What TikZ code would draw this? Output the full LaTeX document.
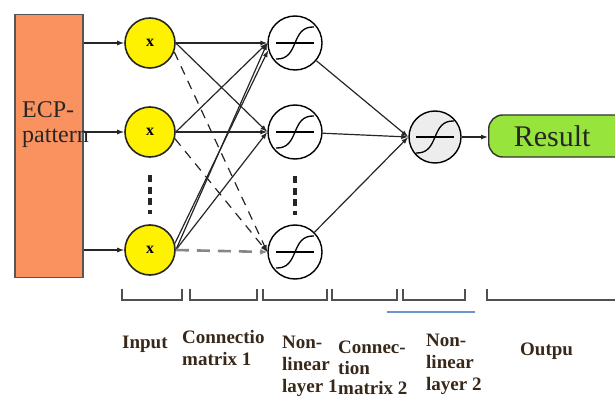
\documentclass[tikz,border=0pt]{standalone}
\usepackage{fontspec}
\setmainfont{Liberation Serif}
\usetikzlibrary{arrows.meta}
\definecolor{ecporange}{RGB}{250,146,96}
\definecolor{ecpborder}{RGB}{85,85,85}
\definecolor{resgreen}{RGB}{150,228,60}
\definecolor{bracketgray}{RGB}{80,80,80}
\definecolor{dashgray}{RGB}{135,135,135}
\definecolor{lineblue}{RGB}{110,150,205}
\definecolor{labelbrown}{RGB}{55,40,25}
\tikzset{
  inode/.style={circle,draw=black!85,line width=1.6pt,fill=yellow,minimum size=50pt,inner sep=0pt,
    font=\fontsize{16}{16}\selectfont\bfseries},
  sigsym/.style={path picture={
    \draw[line width=1.3pt] ([xshift=-19pt]path picture bounding box.center) -- ([xshift=19pt]path picture bounding box.center);
    \draw[line width=1.3pt] ([shift={(-19pt,-16pt)}]path picture bounding box.center)
      .. controls ([shift={(5pt,-17pt)}]path picture bounding box.center) and ([shift={(-5pt,17pt)}]path picture bounding box.center)
      .. ([shift={(19pt,16pt)}]path picture bounding box.center);}},
  signode/.style={circle,draw=black,line width=1.4pt,fill=white,minimum size=54pt,inner sep=0pt,sigsym},
  conn/.style={line width=1.2pt,draw=black!85,-{Latex[length=7pt,width=5pt]}},
  dconn/.style={conn,dash pattern=on 9pt off 7pt},
  gconn/.style={conn,draw=dashgray,line width=2.6pt,dash pattern=on 13pt off 8pt,-{Latex[length=7pt,width=6pt]}},
  vdots/.style={line width=3.5pt,draw=black!85,dash pattern=on 7pt off 4.5pt},
  bracket/.style={line width=2pt,draw=bracketgray},
  lab/.style={anchor=base west,inner sep=0pt,font=\fontsize{19}{22}\selectfont\bfseries,text=labelbrown},
  ecptxt/.style={anchor=base west,inner sep=0pt,font=\fontsize{24}{25}\selectfont,text=black!85},
}
\begin{document}
\begin{tikzpicture}[x=1pt,y=-1pt]
\useasboundingbox (0,0) rectangle (615,398);
\clip (0,0) rectangle (615,398);

% ECP pattern box
\node[draw=ecpborder,line width=1.8pt,fill=ecporange,minimum width=68pt,minimum height=263pt,inner sep=0pt] (ecp) at (49,146) {};
\node[ecptxt] (ecpa) at (22,118) {ECP-};
\node[ecptxt] (ecpb) at (22,143) {pattern};

% input layer
\node[inode] (y1) at (150,43) {x};
\node[inode] (y2) at (150,132) {x};
\node[inode] (y3) at (150,250) {x};

% nonlinear layer 1
\node[signode] (s1) at (295,43) {};
\node[signode] (s2) at (295,132) {};
\node[signode] (s3) at (295,252) {};

% nonlinear layer 2
\node[signode,fill=black!7,minimum size=52pt] (t) at (435,137) {};

% result
\node[draw=black!80,line width=1.4pt,fill=resgreen,rounded corners=14pt,minimum width=145pt,minimum height=42pt,
      anchor=west,inner sep=0pt,font=\fontsize{30}{30}\selectfont,text=black!85] (res) at (488,136) {Result\kern18pt\null};

% inputs
\draw[conn] (ecp.east |- y1) -- (y1);
\draw[conn] (ecp.east |- y2) -- (y2);
\draw[conn] (ecp.east |- y3) -- (y3);

% connection matrix 1
\draw[conn] (y1.east) -- (s1.west);
\draw[conn] (y1.east) -- (s2.west);
\draw[conn] (y2.east) -- (s1.west);
\draw[conn] (y2.east) -- (s2.west);
\draw[conn] (y3.east) -- (s1.west);
\draw[conn] (y3.15) -- (s1.195);
\draw[conn] (y3.east) -- (s2.west);
\draw[dconn] (y1.-20) -- (s3.west);
\draw[dconn] (y2.-15) -- (s3.west);
\draw[gconn] (y3.east) -- (s3.west);

% connection matrix 2
\draw[conn] (s1) -- (t.west);
\draw[conn] (s2) -- (t.west);
\draw[conn] (s3) -- (t.west);
\draw[conn] (t.east) -- (t.east -| res.west);

% vertical dots
\coordinate (da) at (150,175);
\coordinate (db) at (150,214);
\coordinate (dc) at (295,176);
\coordinate (dd) at (295,215);
\draw[vdots] (da) -- (db);
\draw[vdots] (dc) -- (dd);

% brackets
\draw[bracket] (122,289) -- (122,300) -- (182,300) -- (182,289);
\draw[bracket] (190,289) -- (190,300) -- (257,300) -- (257,289);
\draw[bracket] (263,289) -- (263,300) -- (327,300) -- (327,289);
\draw[bracket] (332,289) -- (332,300) -- (397,300) -- (397,289);
\draw[bracket] (403,289) -- (403,300) -- (465,300) -- (465,289);
\draw[bracket] (487,289) -- (487,300) -- (620,300);
\draw[line width=1.5pt,draw=lineblue] (387,312) -- (475,312);

% labels
\node[lab] (l1) at (122,348) {Input};
\node[lab] (l2a) at (182,343) {Connectio};
\node[lab] (l2b) at (182,365) {matrix 1};
\node[lab] (l3a) at (282,348) {Non-};
\node[lab] (l3b) at (282,370) {linear};
\node[lab] (l3c) at (282,392) {layer 1};
\node[lab] (l4a) at (338,353) {Connec-};
\node[lab] (l4b) at (338,374) {tion};
\node[lab] (l4c) at (338,394) {matrix 2};
\node[lab] (l5a) at (426,346) {Non-};
\node[lab] (l5b) at (426,368) {linear};
\node[lab] (l5c) at (426,390) {layer 2};
\node[lab] (l6) at (520,355) {Outpu};
\end{tikzpicture}
\end{document}
